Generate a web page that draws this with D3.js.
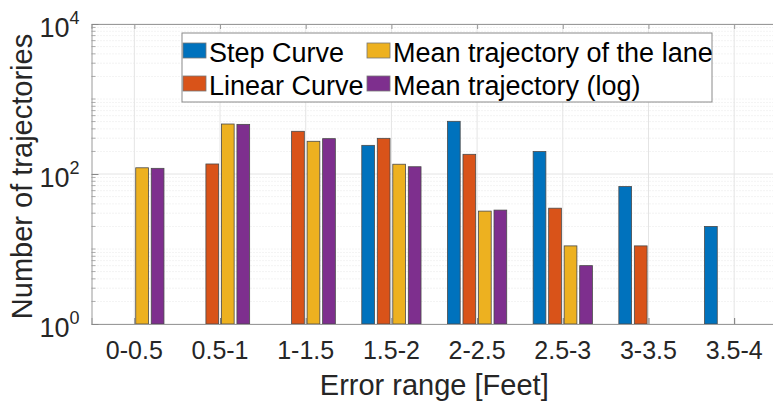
<!DOCTYPE html>
<html>
<head>
<meta charset="utf-8">
<script src="https://cdn.jsdelivr.net/npm/d3@7"></script>
<style>
  body { margin: 0; background: #fff; }
  text { font-family: "Liberation Sans", Arial, Helvetica, sans-serif; }
</style>
</head>
<body>
<div class="chart"></div>
<script>
// data (0 = no bar, log axis)
const categories = ["0-0.5", "0.5-1", "1-1.5", "1.5-2", "2-2.5", "2.5-3", "3-3.5", "3.5-4"];
const seriesNames = ["Step Curve", "Linear Curve", "Mean trajectory of the lane", "Mean trajectory (log)"];
const stepCurve = [0, 0, 0, 241, 504, 199, 68, 20];
const linearCurve = [0, 136, 371, 299, 183, 35, 11, 0];
const meanLane = [121, 464, 273, 135, 32, 11, 0, 0];
const meanLog = [119, 459, 296, 125, 33, 6, 0, 0];
const colors = ["#0072BD", "#D95319", "#EDB120", "#7E2F8E"];
const yTicks = [1, 100, 10000];

const allSeries = [stepCurve, linearCurve, meanLane, meanLog];

const width = 773;
const height = 403;
const plotL = 91.5, plotR = 777, plotT = 24, plotB = 324;

const svg = d3.select(".chart")
    .append("svg")
    .attr("width", width)
    .attr("height", height);

const x = d3.scaleLinear().domain([0.5, categories.length + 0.5]).range([plotL, plotR]);
const y = d3.scaleLog().domain([1, 10000]).range([plotB, plotT]);
const step = x(2) - x(1);
const inner = d3.scaleBand()
    .domain(seriesNames)
    .range([-step * 0.362, step * 0.362])
    .paddingInner(0.18)
    .paddingOuter(0.09);

// minor grid
const minor = [];
for (let e = 0; e < 4; e++) {
    for (let m = 2; m <= 9; m++) minor.push(m * Math.pow(10, e));
}
minor.push(10, 1000);
svg.append("g")
    .selectAll("line")
    .data(minor)
    .enter()
    .append("line")
    .attr("x1", plotL).attr("x2", plotR)
    .attr("y1", d => y(d)).attr("y2", d => y(d))
    .attr("stroke", "#e2e2e2")
    .attr("stroke-width", 0.8)
    .attr("stroke-dasharray", "1,2");

// major grid
svg.append("g")
    .selectAll("line")
    .data(yTicks)
    .enter()
    .append("line")
    .attr("x1", plotL).attr("x2", plotR)
    .attr("y1", d => y(d)).attr("y2", d => y(d))
    .attr("stroke", "#e4e4e4");
svg.append("g")
    .selectAll("line")
    .data(categories)
    .enter()
    .append("line")
    .attr("x1", (d, i) => x(i + 1)).attr("x2", (d, i) => x(i + 1))
    .attr("y1", plotT).attr("y2", plotB)
    .attr("stroke", "#e4e4e4");

// bars
const bars = [];
allSeries.forEach((s, si) => {
    s.forEach((v, ci) => {
        if (v > 0) bars.push({ s: si, c: ci, v: v });
    });
});
svg.append("g")
    .selectAll("rect")
    .data(bars)
    .enter()
    .append("rect")
    .attr("x", d => x(d.c + 1) + inner(seriesNames[d.s]))
    .attr("width", inner.bandwidth())
    .attr("y", d => y(d.v))
    .attr("height", d => y(1) - y(d.v))
    .attr("fill", d => colors[d.s])
    .attr("stroke", "#4a4a4a")
    .attr("stroke-width", 0.8);

// axes box + ticks
const axisColor = "#9a9a9a";
svg.append("g")
    .attr("transform", `translate(0,${plotB})`)
    .call(d3.axisBottom(x).tickValues(d3.range(1, 9)).tickSize(-6).tickFormat(""))
    .call(g => g.select(".domain").attr("stroke", axisColor))
    .call(g => g.selectAll(".tick line").attr("stroke", "#777"));
svg.append("g")
    .attr("transform", `translate(0,${plotT})`)
    .call(d3.axisTop(x).tickValues(d3.range(1, 9)).tickSize(-5).tickFormat(""))
    .call(g => g.select(".domain").attr("stroke", axisColor))
    .call(g => g.selectAll(".tick line").attr("stroke", "#999"));
svg.append("g")
    .attr("transform", `translate(${plotL},0)`)
    .call(d3.axisLeft(y).tickValues(yTicks).tickSize(-7).tickFormat(""))
    .call(g => g.select(".domain").attr("stroke", axisColor))
    .call(g => g.selectAll(".tick line").attr("stroke", "#888"));
svg.append("g")
    .selectAll("line")
    .data(minor)
    .enter()
    .append("line")
    .attr("x1", plotL).attr("x2", plotL + 4)
    .attr("y1", d => y(d)).attr("y2", d => y(d))
    .attr("stroke", "#999")
    .attr("stroke-width", 0.8);

// tick labels
svg.append("g")
    .selectAll("text")
    .data(categories)
    .enter()
    .append("text")
    .attr("x", (d, i) => x(i + 1))
    .attr("y", 359)
    .attr("text-anchor", "middle")
    .attr("font-size", 25)
    .attr("fill", "#262626")
    .text(d => d);

const yl = svg.append("g")
    .selectAll("text")
    .data(yTicks)
    .enter()
    .append("text")
    .attr("x", plotL - 12)
    .attr("y", d => y(d) + 13)
    .attr("text-anchor", "end")
    .attr("font-size", 27)
    .attr("fill", "#262626");
yl.append("tspan").text("10");
yl.append("tspan")
    .attr("font-size", 18)
    .attr("dy", -13)
    .text(d => Math.round(Math.log10(d)));

// axis labels
svg.append("text")
    .attr("x", (plotL + plotR) / 2)
    .attr("y", 395)
    .attr("text-anchor", "middle")
    .attr("font-size", 29)
    .attr("fill", "#262626")
    .text("Error range [Feet]");
svg.append("text")
    .attr("transform", "translate(32,176.5) rotate(-90)")
    .attr("text-anchor", "middle")
    .attr("font-size", 29)
    .attr("fill", "#262626")
    .text("Number of trajectories");

// legend
const legend = svg.append("g");
legend.append("rect")
    .attr("x", 182).attr("y", 33)
    .attr("width", 530).attr("height", 69)
    .attr("fill", "#fff")
    .attr("stroke", "#8a8a8a");
const colX = [183, 367];
const rowY = [62, 95];
const items = legend.selectAll("g.item")
    .data(seriesNames)
    .enter()
    .append("g")
    .attr("transform", (d, i) => `translate(${colX[Math.floor(i / 2)]},${rowY[i % 2]})`);
items.append("rect")
    .attr("x", 0).attr("y", -19)
    .attr("width", 23).attr("height", 15)
    .attr("fill", (d, i) => colors[i])
    .attr("stroke", "#777")
    .attr("stroke-width", 0.8);
items.append("text")
    .attr("x", 26)
    .attr("font-size", 27)
    .attr("fill", "#000")
    .text(d => d);
</script>
</body>
</html>
